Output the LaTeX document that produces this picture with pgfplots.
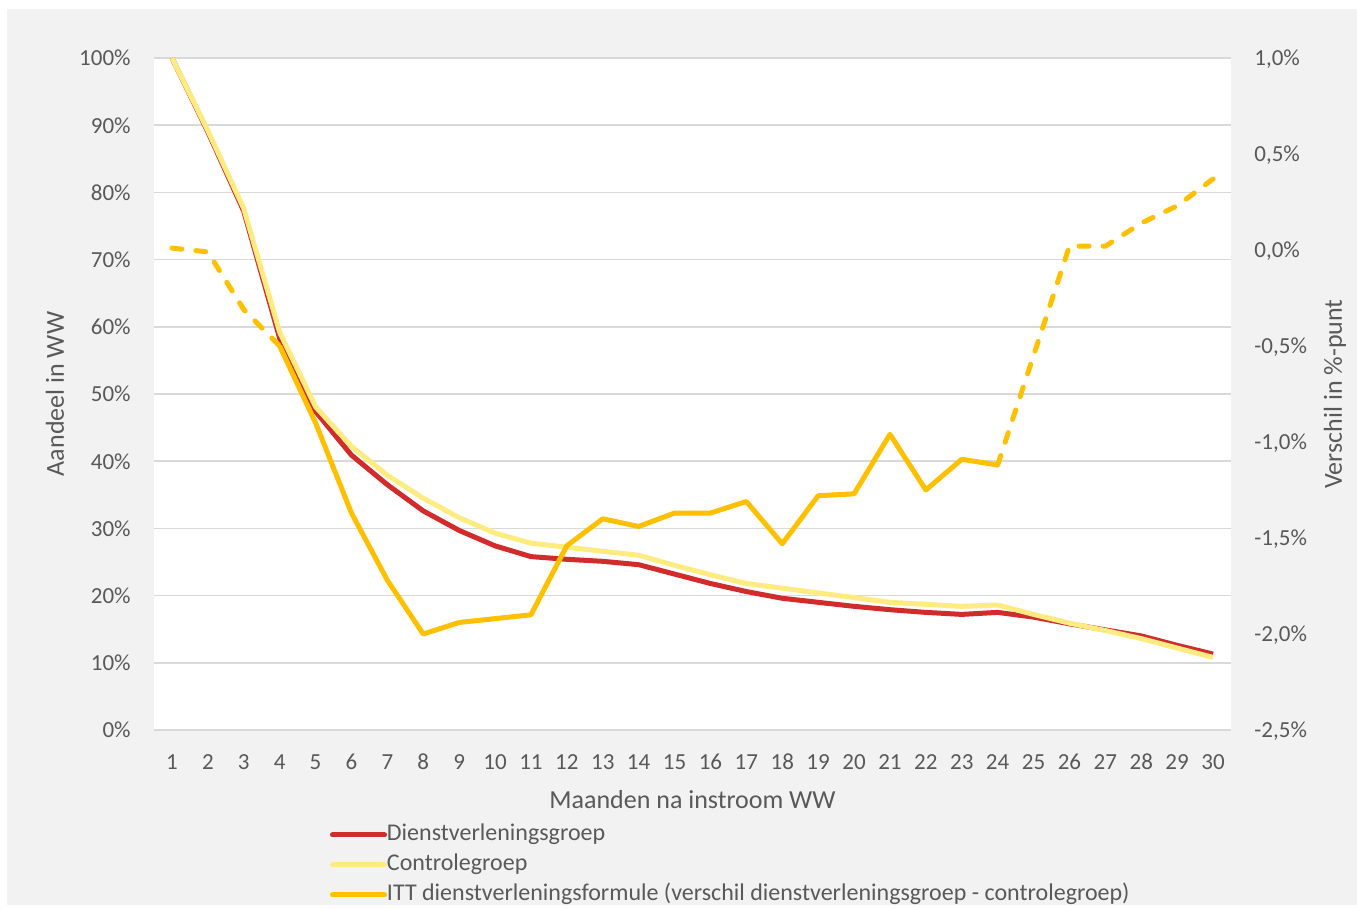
\documentclass[border=0pt]{standalone}
\usepackage{pgfplots}
\pgfplotsset{compat=1.18}
\usepackage{fontspec}
\setmainfont{Carlito}
\definecolor{txt}{HTML}{595959}
\definecolor{gridc}{HTML}{D9D9D9}
\definecolor{bgc}{HTML}{F2F2F2}
\definecolor{dvred}{HTML}{D22B2B}
\definecolor{ctyel}{HTML}{FFEC80}
\definecolor{ittor}{HTML}{FFC000}

\pgfplotstableread{
x red yel
1 100 100
2 89.0 89.2
3 77.2 77.6
4 58.3 59.2
5 47.4 48.1
6 40.9 42.2
7 36.5 37.9
8 32.6 34.5
9 29.7 31.6
10 27.4 29.3
11 25.8 27.8
12 25.4 27.2
13 25.1 26.6
14 24.6 26.0
15 23.2 24.5
16 21.8 23.1
17 20.6 21.8
18 19.6 21.1
19 19.0 20.4
20 18.4 19.7
21 17.9 19.0
22 17.5 18.7
23 17.2 18.4
24 17.5 18.6
25 16.8 17.2
26 15.8 15.9
27 14.9 14.8
28 14.0 13.6
29 12.6 12.2
30 11.3 10.8
}\groups

\pgfplotstableread{
x itt
4 -0.50
5 -0.90
6 -1.37
7 -1.72
8 -2.00
9 -1.94
10 -1.92
11 -1.90
12 -1.54
13 -1.40
14 -1.44
15 -1.37
16 -1.37
17 -1.31
18 -1.53
19 -1.28
20 -1.27
21 -0.96
22 -1.25
23 -1.09
24 -1.12
}\ittsolid

\pgfplotstableread{
x itt
1 0.01
2 -0.01
3 -0.31
4 -0.50
}\ittstart

\pgfplotstableread{
x itt
24 -1.12
25 -0.55
26 0.02
27 0.02
28 0.14
29 0.23
30 0.37
}\ittend

\begin{document}
\begin{tikzpicture}[x=1pt,y=1pt]
\fill[white] (-77,-89.5) rectangle (601.5,365);
\fill[bgc] (-73.5,-87.5) rectangle (601.5,360.5);
\pgfplotsset{
  base/.style={
    at={(0,0)}, anchor=south west,
    scale only axis, width=538.5pt, height=336pt,
    xmin=0.5, xmax=30.5,
    axis line style={draw=none},
    major tick length=0pt,
    tick label style={font=\fontsize{11.5}{13}\selectfont, text=txt, inner sep=0pt, text depth=0pt},
  }
}
\begin{axis}[base,
  axis background/.style={fill=white},
  ymin=0, ymax=100,
  ytick={0,10,20,30,40,50,60,70,80,90,100},
  yticklabels={0\%,10\%,20\%,30\%,40\%,50\%,60\%,70\%,80\%,90\%,100\%},
  yticklabel style={anchor=east, xshift=-11.5pt},
  ymajorgrids, grid style={gridc, line width=0.8pt},
  xtick={1,...,30},
  xticklabels={1,2,3,4,5,6,7,8,9,10,11,12,13,14,15,16,17,18,19,20,21,22,23,24,25,26,27,28,29,30},
  xticklabel style={anchor=north, yshift=-11.5pt, text height=8pt},
]
\addplot[dvred, line width=2.5pt, line join=round] table[x=x, y=red] {\groups};
\addplot[ctyel, line width=2.5pt, line join=round] table[x=x, y=yel] {\groups};
\end{axis}
\begin{axis}[base,
  ymin=-2.5, ymax=1.0,
  ytick={-2.5,-2,-1.5,-1,-0.5,0,0.5,1},
  yticklabels={{-2,5\%},{-2,0\%},{-1,5\%},{-1,0\%},{-0,5\%},{0,0\%},{0,5\%},{1,0\%}},
  yticklabel pos=right,
  yticklabel style={anchor=west, xshift=11.5pt},
  xtick=\empty,
  legend style={at={(axis description cs:0.1634,-0.1384)}, anchor=north west,
    draw=none, fill=none, inner sep=0pt, outer sep=0pt,
    font=\fontsize{12}{14}\selectfont, text=txt,
    nodes={inner sep=0pt, text height=9pt, text depth=3pt},
    row sep=3pt,
    /tikz/every even column/.append style={column sep=0pt}},
  legend cell align=left,
  legend image code/.code={\draw[#1, line width=2.5pt, line cap=round, solid] (0pt,0pt) -- (26pt,0pt);},
]
\addlegendimage{dvred}
\addlegendentry{Dienstverleningsgroep}
\addlegendimage{ctyel}
\addlegendentry{Controlegroep}
\addplot[ittor, line width=2.5pt, line join=round] table[x=x, y=itt] {\ittsolid};
\addlegendentry{ITT dienstverleningsformule (verschil dienstverleningsgroep - controlegroep)}
\addplot[ittor, line width=2.5pt, line cap=round, dash pattern=on 5pt off 7pt, forget plot] table[x=x, y=itt] {\ittstart};
\addplot[ittor, line width=2.5pt, line cap=round, dash pattern=on 5pt off 7pt, forget plot] table[x=x, y=itt] {\ittend};
\end{axis}
\node[font=\fontsize{13}{15}\selectfont, text=txt] at (269.25,-35) {Maanden na instroom WW};
\node[font=\fontsize{13}{15}\selectfont, text=txt, rotate=90] at (-49.5,168) {Aandeel in WW};
\node[font=\fontsize{13}{15}\selectfont, text=txt, rotate=90] at (590.5,168) {Verschil in \%-punt};
\pgfresetboundingbox
\path[use as bounding box] (-77,-89.5) rectangle (601.5,365);
\end{tikzpicture}
\end{document}
